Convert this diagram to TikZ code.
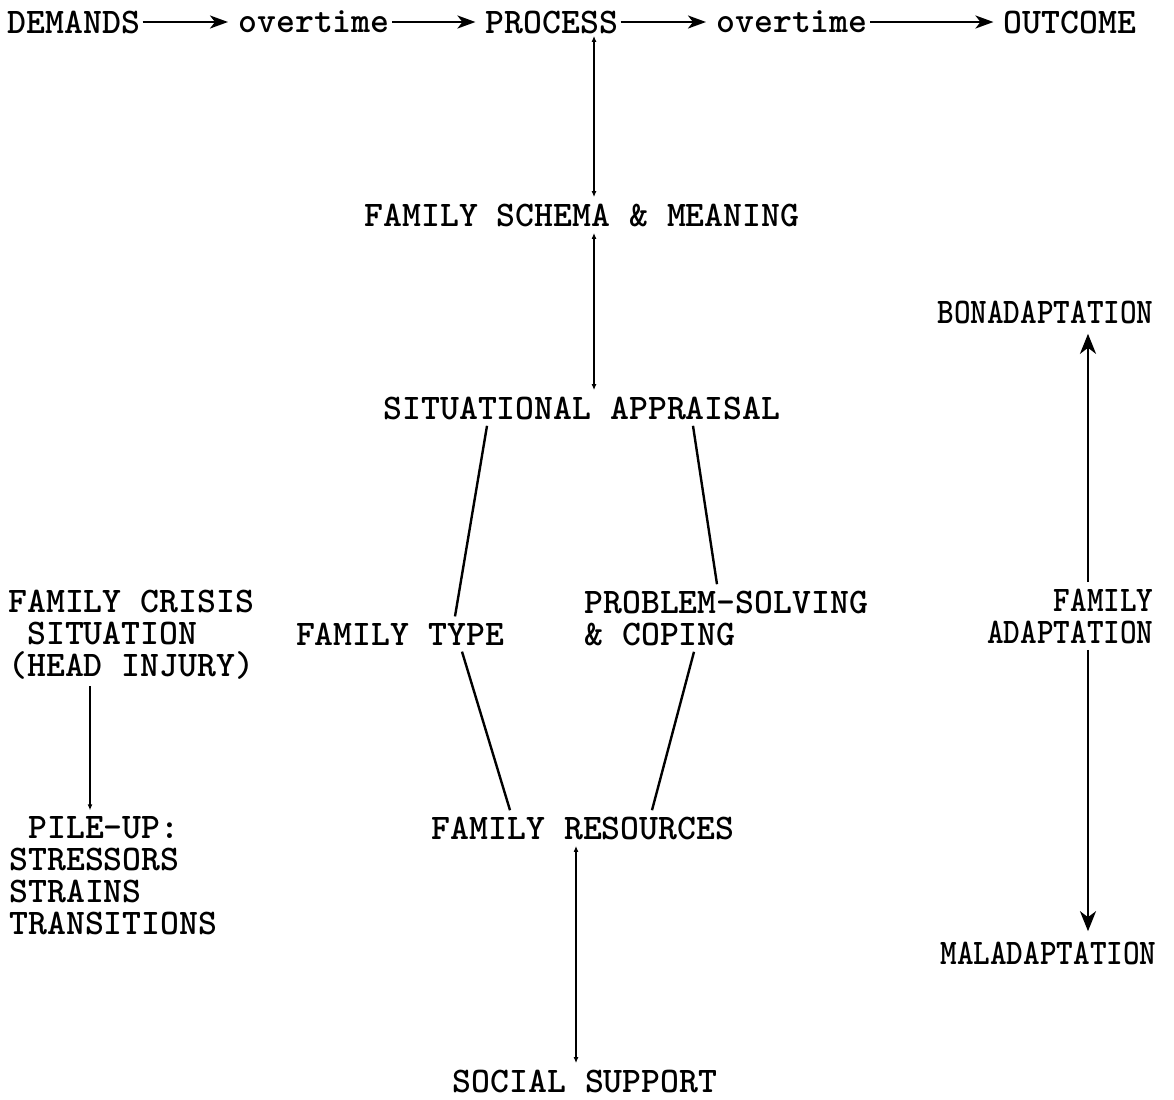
\documentclass[tikz,border=0pt]{standalone}
\usepackage{fontspec}
\newfontfamily\narrowtt{lmmonolt10-bold.otf}[FakeStretch=0.88]
\usetikzlibrary{arrows.meta, positioning, calc}

\begin{document}
\begin{tikzpicture}[
    x=0.5pt, y=-0.5pt,
    every node/.style={font=\fontsize{18}{16}\selectfont\ttfamily\bfseries, inner sep=3pt},
    termbox/.style={inner sep=1pt},
    narrowbox/.style={font=\fontsize{18}{16}\selectfont\narrowtt, align=right},
    flow/.style={-{Stealth[length=9pt,width=6.5pt,inset=2.5pt]}, line width=1.2pt, shorten >=4pt},
    link/.style={{Latex[length=3pt,width=2.4pt]}-{Latex[length=3pt,width=2.4pt]}, line width=1.2pt},
    tie/.style={line width=1.2pt}
]
\useasboundingbox (0,0) rectangle (1174,1099);

% top row
\node[termbox] (dem)  at (74,22)   {DEMANDS};
\node[termbox] (ot1)  at (314,22)  {overtime};
\node[termbox] (proc) at (552,22)  {PROCESS};
\node[termbox] (ot2)  at (792,22)  {overtime};
\node[termbox] (out)  at (1070,22) {OUTCOME};
\draw[flow] (dem) -- (ot1);
\draw[flow] (ot1) -- (proc);
\draw[flow] (proc) -- (ot2);
\draw[flow] (ot2) -- (out);

% middle column
\node (schema) at (582,215) {FAMILY SCHEMA \& MEANING};
\node (appr)   at (582,408) {SITUATIONAL APPRAISAL};
\node (ftype)  at (400,634) {FAMILY TYPE};
\node[anchor=west, align=left] (psc) at (578,618) {PROBLEM-SOLVING\\\& COPING};
\node (fres)   at (583,828) {FAMILY RESOURCES};
\node[inner sep=3pt] (ssup) at (585,1081) {SOCIAL SUPPORT};
\coordinate (spine) at (594,0);
\draw[link] (proc.south -| spine) -- (schema.north -| spine);
\draw[link] (schema.south -| spine) -- (appr.north -| spine);
\draw[tie] (appr.south -| 487,0) -- (ftype.north -| 455,0);
\draw[tie] (appr.south -| 693,0) -- (psc.north -| 717,0);
\draw[tie] (ftype.south -| 462,0) -- (fres.north -| 510,0);
\draw[tie] (psc.south -| 694,0) -- (fres.north -| 652,0);
\draw[link] (fres.south -| 576,0) -- (ssup.north -| 576,0);

% left column
\node[anchor=west, align=left] (crisis) at (2,635) {FAMILY CRISIS\\\ SITUATION\\(HEAD INJURY)};
\node[anchor=west, align=left] (pileup) at (3,876) {\ PILE-UP:\\STRESSORS\\STRAINS\\TRANSITIONS};
\draw[tie, -{Latex[length=3pt,width=2.4pt]}] (crisis.south -| 90,0) -- (pileup.north -| 90,0);

% right column
\node[narrowbox, anchor=east] (bon)    at (1160,312) {BONADAPTATION};
\node[narrowbox, anchor=east] (fadapt) at (1160,616) {FAMILY\\ADAPTATION};
\node[narrowbox, anchor=east] (mal)    at (1163,953) {MALADAPTATION};
\draw[flow, shorten >=2pt, -{Stealth[length=10pt,width=8pt,inset=3pt]}] (fadapt.north -| 1088,0) -- (bon.south -| 1088,0);
\draw[flow, shorten >=2pt, -{Stealth[length=10pt,width=8pt,inset=3pt]}] (fadapt.south -| 1088,0) -- (mal.north -| 1088,0);
\end{tikzpicture}
\end{document}
